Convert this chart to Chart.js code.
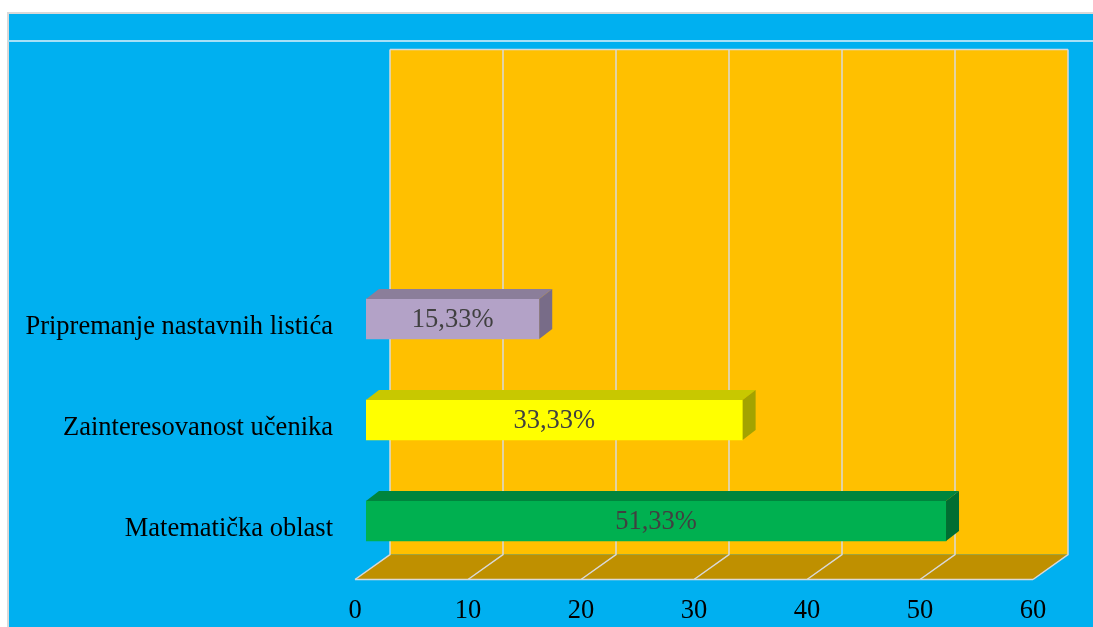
<!DOCTYPE html>
<html>
<head>
<meta charset="utf-8">
<script src="https://cdn.jsdelivr.net/npm/chart.js@4"></script>
<style>
  body { margin: 0; background: #fff; }
  canvas { display: block; }
</style>
</head>
<body>
<canvas id="chart" width="1093" height="627"></canvas>
<script>
// ========== DATA ==========
// top to bottom, the two top rows are empty in the original sheet
const categories = ["", "", "Pripremanje nastavnih listića", "Zainteresovanost učenika", "Matematička oblast"];
const values = [null, null, 15.33, 33.33, 51.33];
const xTicks = [0, 10, 20, 30, 40, 50, 60];

// ========== STYLE ==========
const FONT = "'Liberation Serif', 'Times New Roman', serif";
const frontColors = [null, null, "#B3A2C7", "#FFFF00", "#00B050"];
const topColors = [null, null, "#8B7E9A", "#C8C800", "#00853D"];
const sideColors = [null, null, "#786C88", "#A3A300", "#006E32"];
const DEPTH = { x: 35, y: -25 };   // floor / wall depth
const BAR_SHIFT = { x: 11, y: -8 }; // bar front plane
const BAR_DEPTH = { x: 13, y: -10 };

// ========== 3D PLUGIN ==========
const threeD = {
  id: "threeD",
  beforeDraw(chart) {
    const ctx = chart.ctx;
    ctx.save();
    ctx.fillStyle = "#fff";
    ctx.fillRect(0, 0, chart.width, chart.height);
    ctx.fillStyle = "#00B0F0";
    ctx.fillRect(7, 12, chart.width - 7, chart.height - 12);
    ctx.strokeStyle = "#D9D9D9";
    ctx.lineWidth = 2;
    ctx.beginPath();
    ctx.moveTo(8, chart.height);
    ctx.lineTo(8, 13);
    ctx.lineTo(chart.width, 13);
    ctx.stroke();
    ctx.strokeStyle = "#A6E0F7";
    ctx.beginPath();
    ctx.moveTo(8, 41);
    ctx.lineTo(chart.width, 41);
    ctx.stroke();
    ctx.restore();
  },
  beforeDatasetsDraw(chart) {
    const ctx = chart.ctx;
    const a = chart.chartArea;
    const xs = chart.scales.x;
    ctx.save();
    // back wall
    ctx.fillStyle = "#FFC000";
    ctx.fillRect(a.left + DEPTH.x, a.top + DEPTH.y, a.right - a.left, a.bottom - a.top);
    // floor
    ctx.fillStyle = "#BF9000";
    ctx.beginPath();
    ctx.moveTo(a.left, a.bottom);
    ctx.lineTo(a.right, a.bottom);
    ctx.lineTo(a.right + DEPTH.x, a.bottom + DEPTH.y);
    ctx.lineTo(a.left + DEPTH.x, a.bottom + DEPTH.y);
    ctx.closePath();
    ctx.fill();
    // grid lines on wall and floor
    ctx.strokeStyle = "#D9D9D9";
    ctx.lineWidth = 1.5;
    xTicks.forEach((t) => {
      const px = xs.getPixelForValue(t);
      ctx.beginPath();
      ctx.moveTo(px + DEPTH.x, a.top + DEPTH.y);
      ctx.lineTo(px + DEPTH.x, a.bottom + DEPTH.y);
      ctx.lineTo(px, a.bottom);
      ctx.stroke();
    });
    ctx.beginPath();
    ctx.moveTo(a.left + DEPTH.x, a.top + DEPTH.y);
    ctx.lineTo(a.right + DEPTH.x, a.top + DEPTH.y);
    ctx.moveTo(a.left, a.bottom);
    ctx.lineTo(a.right, a.bottom);
    ctx.stroke();
    ctx.restore();
    // shift the bars into their plane
    ctx.save();
    ctx.translate(BAR_SHIFT.x, BAR_SHIFT.y);
  },
  afterDatasetsDraw(chart) {
    const ctx = chart.ctx;
    ctx.restore();
    const meta = chart.getDatasetMeta(0);
    ctx.save();
    meta.data.forEach((bar, i) => {
      if (values[i] == null) return;
      const left = bar.base + BAR_SHIFT.x;
      const right = bar.x + BAR_SHIFT.x;
      const top = bar.y - bar.height / 2 + BAR_SHIFT.y;
      const bottom = bar.y + bar.height / 2 + BAR_SHIFT.y;
      // top face
      ctx.fillStyle = topColors[i];
      ctx.beginPath();
      ctx.moveTo(left, top);
      ctx.lineTo(left + BAR_DEPTH.x, top + BAR_DEPTH.y);
      ctx.lineTo(right + BAR_DEPTH.x, top + BAR_DEPTH.y);
      ctx.lineTo(right, top);
      ctx.closePath();
      ctx.fill();
      // side face
      ctx.fillStyle = sideColors[i];
      ctx.beginPath();
      ctx.moveTo(right, top);
      ctx.lineTo(right + BAR_DEPTH.x, top + BAR_DEPTH.y);
      ctx.lineTo(right + BAR_DEPTH.x, bottom + BAR_DEPTH.y);
      ctx.lineTo(right, bottom);
      ctx.closePath();
      ctx.fill();
      // value label
      ctx.fillStyle = "#404040";
      ctx.font = "26.5px " + FONT;
      ctx.textAlign = "center";
      ctx.textBaseline = "middle";
      const label = values[i].toFixed(2).replace(".", ",") + "%";
      ctx.fillText(label, (left + right) / 2, (top + bottom) / 2 + 1);
    });
    ctx.restore();
  }
};

// ========== CHART ==========
new Chart(document.getElementById("chart"), {
  type: "bar",
  data: {
    labels: categories,
    datasets: [{
      data: values,
      backgroundColor: frontColors,
      barThickness: 40
    }]
  },
  options: {
    indexAxis: "y",
    responsive: false,
    devicePixelRatio: 1,
    animation: false,
    layout: { padding: { top: 74.5, right: 60, left: 0, bottom: 0 } },
    plugins: { legend: { display: false }, tooltip: { enabled: false } },
    scales: {
      x: {
        min: 0,
        max: 60,
        grid: { display: false, drawTicks: false },
        border: { display: false },
        ticks: { stepSize: 10, color: "#000", padding: 16, font: { family: FONT, size: 26.5 } },
        afterFit: (scale) => { scale.height = 47.5; }
      },
      y: {
        grid: { display: false, drawTicks: false },
        border: { display: false },
        ticks: { color: "#000", padding: 22, font: { family: FONT, size: 26.5 } },
        afterFit: (scale) => { scale.width = 355; }
      }
    }
  },
  plugins: [threeD]
});
</script>
</body>
</html>
